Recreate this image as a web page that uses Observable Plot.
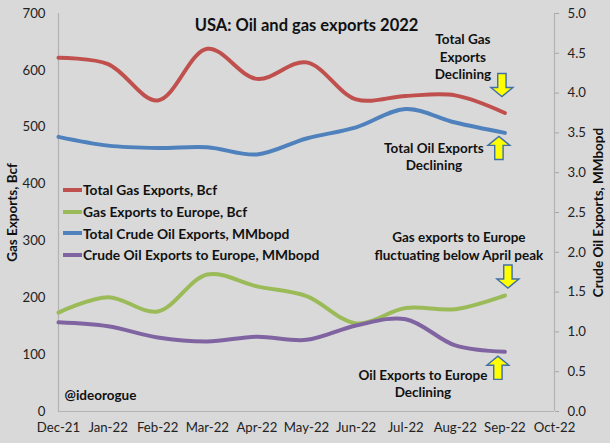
<!DOCTYPE html>
<html>
<head>
<meta charset="utf-8">
<script src="https://cdn.jsdelivr.net/npm/d3@7"></script>
<script src="https://cdn.jsdelivr.net/npm/@observablehq/plot@0.6"></script>
<style>
  html, body { margin: 0; padding: 0; background: #D9D9D9; }
  #wrap { position: relative; width: 610px; height: 443px; font-family: Lato, "Liberation Sans", sans-serif; }
  #legend { position: absolute; left: 63px; top: 179px; }
  .row { display: flex; align-items: center; height: 21.7px; font-weight: bold; font-size: 13.8px; color: #111; white-space: nowrap; }
  .swatch { width: 19px; height: 4px; margin-right: 1px; }
</style>
</head>
<body>
<div id="wrap"><div id="legend"></div></div>
<script>
// ---- data ----
const months = ["Dec-21","Jan-22","Feb-22","Mar-22","Apr-22","May-22","Jun-22","Jul-22","Aug-22","Sep-22","Oct-22"];
const gasTotal  = [622, 611, 547, 638, 585, 614, 549, 555, 556, 525];      // Bcf
const gasEurope = [174, 201, 176, 241, 220, 203, 155, 182, 180, 204];      // Bcf
const oilTotal  = [3.45, 3.34, 3.31, 3.32, 3.23, 3.43, 3.57, 3.80, 3.63, 3.50]; // MMbopd
const oilEurope = [1.12, 1.07, 0.93, 0.88, 0.94, 0.90, 1.08, 1.16, 0.83, 0.75]; // MMbopd
const seriesNames = ["Total Gas Exports, Bcf","Gas Exports to Europe, Bcf","Total Crude Oil Exports, MMbopd","Crude Oil Exports to Europe, MMbopd"];
const seriesColors = ["#C0504D","#9BBB59","#4F81BD","#8064A2"];
const leftTicks = [0,100,200,300,400,500,600,700];
const rightTicks = [0,0.5,1.0,1.5,2.0,2.5,3.0,3.5,4.0,4.5,5.0];
const leftMax = 700, rightMax = 5;
const factor = leftMax / rightMax;

const annotations = [
  {series: 0, text: "Total Gas\nExports\nDeclining", dir: "down"},
  {series: 2, text: "Total Oil Exports\nDeclining", dir: "up"},
  {series: 1, text: "Gas exports to Europe\nfluctuating below April peak", dir: "down"},
  {series: 3, text: "Oil Exports to Europe\nDeclining", dir: "up"}
];

// ---- build table ----
const raw = [gasTotal, gasEurope, oilTotal.map(v => v * factor), oilEurope.map(v => v * factor)];
const rows = [];
raw.forEach((vals, s) => vals.forEach((v, i) => rows.push({i, v, s: seriesNames[s]})));
const last = raw.map((vals, s) => ({i: vals.length - 1, v: vals[vals.length - 1], s}));

// block arrow symbols
function arrow(up) {
  return {draw(ctx, size) {
    const r = Math.sqrt(size / Math.PI);
    const sw = 0.38 * r, hw = r, top = -1.05 * r, neck = 0.23 * r, tip = 1.05 * r;
    const f = up ? -1 : 1;
    ctx.moveTo(-sw, f * top);
    ctx.lineTo(sw, f * top);
    ctx.lineTo(sw, f * neck);
    ctx.lineTo(hw, f * neck);
    ctx.lineTo(0, f * tip);
    ctx.lineTo(-hw, f * neck);
    ctx.lineTo(-sw, f * neck);
    ctx.closePath();
  }};
}

// annotation placement offsets (styling, relative to each series' last point)
const arrowOff = [[-3,-28],[-6,15],[3,-19],[-7,16]];
const textOff  = [[-42,-57],[-71,23],[-46,-50],[-82,31]];

const marks = [
  Plot.ruleX([0, 10], {stroke: "#B3B3B3", strokeWidth: 1.2}),
  Plot.ruleY([0], {stroke: "#B3B3B3", strokeWidth: 1.2}),
  Plot.axisY({anchor: "left", ticks: leftTicks, tickSize: 0, tickPadding: 13, label: null, fontSize: 13.2, fill: "#222"}),
  Plot.axisY({anchor: "right", ticks: rightTicks.map(v => v * factor), tickFormat: d => (d / factor).toFixed(1), tickSize: 4, tickPadding: 9, label: null, stroke: "#A6A6A6", fill: "#222", fontSize: 13.2}),
  Plot.axisX({ticks: d3.range(months.length), tickFormat: i => months[i], tickSize: 0, tickPadding: 11, label: null, fontSize: 13.2, fill: "#222"}),
  Plot.line(rows, {x: "i", y: "v", z: "s", stroke: "s", strokeWidth: 4, curve: "catmull-rom"}),
  Plot.text(["USA: Oil and gas exports 2022"], {frameAnchor: "top", dy: 6, fontWeight: "bold", fontSize: 16.5, fill: "#111"}),
  Plot.text(["Gas Exports, Bcf"], {frameAnchor: "left", textAnchor: "middle", dx: -46, rotate: -90, fontWeight: "bold", fontSize: 13.5, fill: "#111"}),
  Plot.text(["Crude Oil Exports, MMbopd"], {frameAnchor: "right", textAnchor: "middle", dx: 44, rotate: -90, fontWeight: "bold", fontSize: 13.5, fill: "#111"}),
  Plot.text(["@ideorogue"], {frameAnchor: "bottom-left", dx: 6, dy: -12, textAnchor: "start", fontWeight: "bold", fontSize: 13.5, fill: "#111"})
];
annotations.forEach((a, k) => {
  const p = last[a.series];
  marks.push(Plot.dot([p], {x: "i", y: "v", r: 11, symbol: arrow(a.dir === "up"), fill: "#FFFF00", stroke: "#3F6FA8", strokeWidth: 1.4, dx: arrowOff[k][0], dy: arrowOff[k][1]}));
  marks.push(Plot.text([p], {x: "i", y: "v", text: () => a.text, dx: textOff[k][0], dy: textOff[k][1], fontWeight: "bold", fontSize: 13.5, lineHeight: 1.3, fill: "#111"}));
});

const chart = Plot.plot({
  width: 610, height: 443,
  marginLeft: 58, marginRight: 56, marginTop: 13, marginBottom: 32,
  style: {background: "#D9D9D9", fontFamily: "Lato, 'Liberation Sans', sans-serif", color: "#222"},
  x: {domain: [0, 10]},
  y: {domain: [0, leftMax]},
  color: {domain: seriesNames, range: seriesColors},
  marks
});
const wrap = document.getElementById("wrap");
wrap.insertBefore(chart, wrap.firstChild);

const legend = document.getElementById("legend");
seriesNames.forEach((n, k) => {
  const row = document.createElement("div");
  row.className = "row";
  row.innerHTML = `<span class="swatch" style="background:${seriesColors[k]}"></span><span>${n}</span>`;
  legend.appendChild(row);
});
</script>
</body>
</html>
